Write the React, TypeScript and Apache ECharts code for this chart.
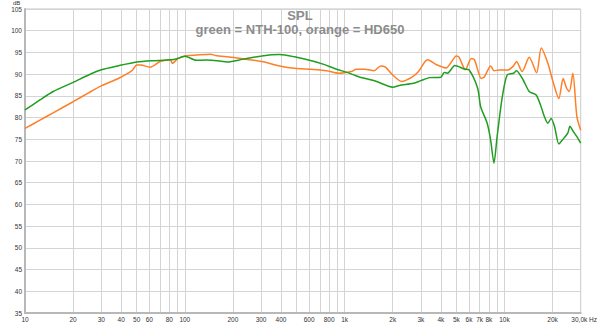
import React, { useEffect, useRef } from 'react';
import * as echarts from 'echarts';

const greenFreq = [10, 12.4, 15, 20, 25, 30, 38.6, 50, 62, 78, 88, 97, 100, 118, 136, 160, 185, 229, 303, 392, 485, 620, 732, 880, 1060, 1225, 1570, 2000, 2200, 2700, 3000, 3400, 4000, 4200, 4400, 4900, 5600, 6000, 6800, 7100, 7800, 8200, 8600, 9000, 9700, 10400, 11400, 11900, 13100, 14300, 15800, 17000, 17800, 18700, 19600, 20600, 21900, 23000, 24900, 25700, 27000, 28400, 30000];
const greenDb = [81.75, 84.05, 86.0, 88.1, 89.8, 91.0, 91.95, 92.8, 93.1, 93.25, 93.5, 94.0, 94.1, 93.2, 93.25, 93.1, 92.8, 93.4, 94.2, 94.5, 94.0, 93.1, 92.3, 91.2, 90.3, 89.4, 88.35, 87.0, 87.4, 87.9, 88.5, 89.2, 89.3, 90.4, 90.2, 92.0, 91.2, 91.0, 86.75, 82.5, 78.7, 74.8, 69.5, 75.6, 84.8, 89.8, 90.2, 90.8, 88.65, 86.0, 85.2, 82.4, 80.2, 78.7, 79.8, 77.9, 73.9, 74.8, 76.4, 78.0, 76.75, 75.6, 74.1];

const orangeFreq = [10, 12.4, 15, 20, 25, 30, 38.6, 46.7, 50, 52.9, 60.6, 70, 76.8, 81, 83.5, 91, 100, 118, 145, 156, 197, 303, 392, 485, 620, 770, 920, 1100, 1180, 1340, 1530, 1680, 1800, 2000, 2270, 2640, 2900, 3300, 3800, 4330, 4600, 5000, 5200, 5700, 6200, 6500, 7170, 7500, 8200, 8600, 9300, 10500, 11400, 11900, 12900, 14300, 15900, 17000, 18700, 20000, 21900, 23300, 24500, 25500, 26800, 28400, 30000];
const orangeDb = [77.5, 79.4, 81.1, 83.65, 85.7, 87.3, 89.05, 90.8, 92.1, 92.1, 91.6, 92.9, 93.25, 93.4, 92.5, 93.65, 94.2, 94.4, 94.6, 94.3, 93.9, 92.9, 91.9, 91.35, 91.1, 90.8, 90.2, 90.6, 91.1, 91.1, 90.8, 91.9, 91.6, 89.8, 88.3, 89.3, 90.6, 93.3, 92.1, 91.4, 92.5, 94.2, 93.9, 91.0, 93.6, 93.3, 89.0, 89.4, 91.9, 90.8, 90.95, 90.95, 91.9, 92.9, 90.6, 93.9, 90.3, 96.0, 92.5, 88.65, 84.4, 89.0, 86.75, 86.0, 90.2, 80.2, 77.1];

const gridFreqs = [10, 20, 30, 40, 50, 60, 70, 80, 90, 100, 200, 300, 400, 500, 600, 700, 800, 900, 1000, 2000, 3000, 4000, 5000, 6000, 7000, 8000, 9000, 10000, 20000, 30000];
const labelFreqs = [10, 20, 30, 40, 50, 60, 80, 100, 200, 300, 400, 600, 800, 1000, 2000, 3000, 4000, 5000, 6000, 7000, 8000, 10000, 20000, 30000];
const labelTexts = ['10', '20', '30', '40', '50', '60', '80', '100', '200', '300', '400', '600', '800', '1k', '2k', '3k', '4k', '5k', '6k', '7k', '8k', '10k', '20k', '30,0k Hz'];

const titleText = 'SPL';
const subtitleText = 'green = NTH-100, orange = HD650';

export default function App() {
  const ref = useRef<HTMLDivElement>(null);
  useEffect(() => {
    document.body.style.margin = '0';
    const chart = echarts.init(ref.current!, null, { renderer: 'svg' });
    const font = 'Liberation Sans, Arial, sans-serif';
    chart.setOption({
      animation: false,
      backgroundColor: '#ffffff',
      grid: { left: 25, right: 11, top: 9, bottom: 13, show: true, borderColor: '#c4c4c4', borderWidth: 1 },
      xAxis: {
        type: 'log',
        logBase: 10,
        min: 10,
        max: 30000,
        axisLine: { show: true, onZero: false, lineStyle: { color: '#b8b8b8', width: 2 } },
        axisTick: { show: false, customValues: gridFreqs },
        splitLine: { show: true, lineStyle: { color: '#d4d4d4', width: 1 } },
        axisLabel: {
          customValues: labelFreqs,
          margin: 3,
          fontSize: 6.5,
          color: '#333',
          fontFamily: font,
          hideOverlap: false,
          formatter: (v: number) => {
            const i = labelFreqs.indexOf(Math.round(v));
            const t = i >= 0 ? labelTexts[i] : '';
            return i === labelFreqs.length - 1 ? '{e|' + t + '}' : t;
          },
          rich: { e: { fontSize: 6.5, color: '#333', fontFamily: font, padding: [0, 0, 0, 7] } },
        },
      },
      yAxis: {
        type: 'value',
        min: 35,
        max: 105,
        interval: 5,
        axisLine: { show: true, onZero: false, lineStyle: { color: '#b8b8b8', width: 2 } },
        axisTick: { show: false },
        splitLine: { show: true, lineStyle: { color: '#d4d4d4', width: 1 } },
        axisLabel: { margin: 3, fontSize: 6.5, color: '#333', fontFamily: font },
      },
      graphic: [
        { type: 'text', left: 13, top: 0, style: { text: 'dB', fontSize: 6, fill: '#333', fontFamily: font } },
        { type: 'text', x: 300, y: 15.5, style: { text: titleText, fontSize: 13, fontWeight: 'bold', fill: '#8c8c8c', fontFamily: font, textAlign: 'center', textVerticalAlign: 'middle' }, z: 100 },
        { type: 'text', x: 300, y: 29.5, style: { text: subtitleText, fontSize: 13, fontWeight: 'bold', fill: '#8c8c8c', fontFamily: font, textAlign: 'center', textVerticalAlign: 'middle' }, z: 100 },
      ],
      series: [
        {
          type: 'line',
          name: 'HD650',
          data: orangeFreq.map((f, i) => [f, orangeDb[i]]),
          showSymbol: false,
          smooth: 0.25,
          lineStyle: { color: '#ff7f27', width: 1.5 },
          z: 3,
        },
        {
          type: 'line',
          name: 'NTH-100',
          data: greenFreq.map((f, i) => [f, greenDb[i]]),
          showSymbol: false,
          smooth: 0.25,
          lineStyle: { color: '#1f9e1f', width: 1.5 },
          z: 4,
        },
      ],
    });
    return () => chart.dispose();
  }, []);
  return <div ref={ref} style={{ width: 600, height: 326 }} />;
}
